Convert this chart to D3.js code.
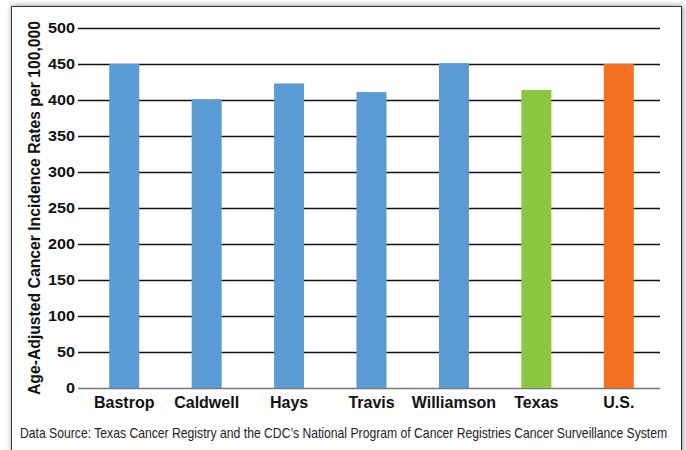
<!DOCTYPE html>
<html>
<head>
<meta charset="utf-8">
<script src="https://cdn.jsdelivr.net/npm/d3@7"></script>
<style>
  html, body { margin: 0; padding: 0; background: #fff; }
  svg { display: block; }
  text { font-family: "Liberation Sans Narrow", "Arial Narrow", "Liberation Sans", Arial, sans-serif; }
</style>
</head>
<body>
<svg id="chart" width="686" height="450"></svg>
<script>
// Age-adjusted cancer incidence rates per 100,000
const categories = ["Bastrop", "Caldwell", "Hays", "Travis", "Williamson", "Texas", "U.S."];
const rates = [450, 401, 423, 411, 451, 414, 450];
const barColors = ["#5B9BD5", "#5B9BD5", "#5B9BD5", "#5B9BD5", "#5B9BD5", "#8DC63F", "#F36F21"];
const yTicks = [0, 50, 100, 150, 200, 250, 300, 350, 400, 450, 500];
const yTitle = "Age-Adjusted Cancer Incidence Rates per 100,000";
const sourceNote = "Data Source: Texas Cancer Registry and the CDC’s National Program of Cancer Registries Cancer Surveillance System";

const svg = d3.select("#chart");
const W = 686, H = 450;

// framed panel with a soft shadow
const defs = svg.append("defs");
const f = defs.append("filter").attr("id", "shadow").attr("x", "-5%").attr("y", "-5%").attr("width", "110%").attr("height", "110%");
f.append("feGaussianBlur").attr("in", "SourceAlpha").attr("stdDeviation", 3);
f.append("feOffset").attr("dx", 1).attr("dy", 0).attr("result", "b");
f.append("feComponentTransfer").append("feFuncA").attr("type", "linear").attr("slope", 0.45);
const m = f.append("feMerge");
m.append("feMergeNode");
m.append("feMergeNode").attr("in", "SourceGraphic");

svg.append("rect").attr("width", W).attr("height", H).attr("fill", "#fff");
svg.append("rect")
  .attr("x", 11.5).attr("y", 6.5).attr("width", 670).attr("height", 470)
  .attr("fill", "#fff").attr("stroke", "#333").attr("stroke-width", 1)
  .attr("filter", "url(#shadow)");

const plot = { left: 83, right: 660, top: 28, bottom: 388 };

const x = d3.scaleBand()
  .domain(categories)
  .range([plot.left, plot.right])
  .paddingInner(0.636)
  .paddingOuter(0.318);

const y = d3.scaleLinear()
  .domain([0, 500])
  .range([plot.bottom, plot.top]);

// horizontal gridlines with short ticks and labels
const yAxis = d3.axisLeft(y)
  .tickValues(yTicks)
  .tickSize(-(plot.right - plot.left + 5))
  .tickPadding(4);

const gy = svg.append("g")
  .attr("transform", `translate(${plot.left - 5},0)`)
  .call(yAxis);
gy.select(".domain").remove();
gy.selectAll(".tick line")
  .attr("stroke", d => d === 0 ? "#777" : "#111")
  .attr("stroke-width", 1.4);
gy.selectAll(".tick text")
  .attr("font-size", 15)
  .attr("font-weight", "bold")
  .attr("fill", "#111")
  .attr("x", -3)
  .attr("textLength", d => String(d).length * 9)
  .attr("lengthAdjust", "spacingAndGlyphs");

// bars
svg.append("g")
  .selectAll("rect")
  .data(categories)
  .join("rect")
  .attr("x", d => x(d))
  .attr("width", x.bandwidth())
  .attr("y", (d, i) => y(rates[i]))
  .attr("height", (d, i) => y(0) - y(rates[i]))
  .attr("fill", (d, i) => barColors[i]);

// category labels
const xAxis = d3.axisBottom(x).tickSize(0).tickPadding(9);
const gx = svg.append("g")
  .attr("transform", `translate(0,${plot.bottom})`)
  .call(xAxis);
gx.select(".domain").remove();
gx.selectAll(".tick text")
  .attr("font-size", 16)
  .attr("font-weight", "bold")
  .attr("fill", "#111");

// y-axis title
svg.append("text")
  .attr("transform", `translate(40,${(plot.top + plot.bottom) / 2}) rotate(-90)`)
  .attr("text-anchor", "middle")
  .attr("font-size", 16)
  .attr("font-weight", "bold")
  .attr("fill", "#111")
  .attr("textLength", 374)
  .attr("lengthAdjust", "spacingAndGlyphs")
  .text(yTitle);

// source note, squeezed horizontally so it spans the panel width
const note = svg.append("text")
  .attr("font-size", 14)
  .attr("fill", "#222")
  .text(sourceNote);
const noteWidth = note.node().getComputedTextLength();
const sx = Math.min(1, 648 / noteWidth);
note.attr("transform", `translate(20,438) scale(${sx},1)`);
</script>
</body>
</html>
